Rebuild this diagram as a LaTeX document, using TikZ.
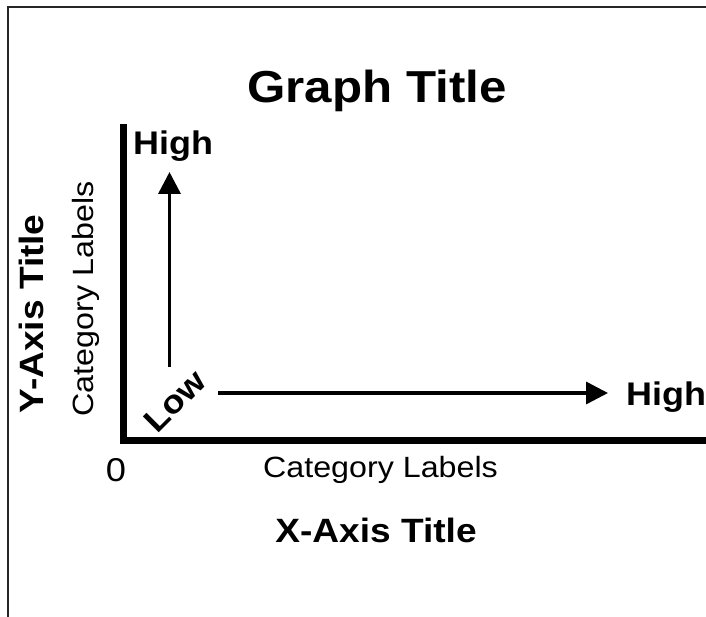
\documentclass[tikz,border=0pt]{standalone}
\usepackage{fontspec}
\setmainfont{Liberation Sans}[FakeStretch=1.1]
\usetikzlibrary{arrows.meta}
\tikzset{
  frameline/.style={line width=2pt, black!85},
  axisline/.style={line width=7pt, line join=miter},
  dirarrow/.style={line width=3.5pt, -{Triangle[length=22pt,width=22pt]}},
  boldlab/.style={font=\bfseries\fontsize{32.7}{36}\selectfont, inner sep=0pt},
  catlab/.style={font=\fontsize{29.3}{33}\selectfont, inner sep=0pt},
  titlelab/.style={font=\bfseries\fontsize{33.7}{38}\selectfont, inner sep=0pt}
}
\begin{document}
\begin{tikzpicture}[x=1pt,y=-1pt]
\useasboundingbox (0,0) rectangle (706,617);
\fill[white] (0,0) rectangle (706,617);
% frame
\coordinate (fTR) at (706,7);
\coordinate (fTL) at (8,7);
\coordinate (fBL) at (8,617);
\draw[frameline] (fTR) -- (fTL) -- (fBL);
% axes
\coordinate (yTop) at (123.5,124);
\coordinate (origin) at (123.5,440.5);
\coordinate (xEnd) at (706,440.5);
\draw[axisline] (yTop) -- (origin) -- (xEnd);
% title
\node[font=\bfseries\fontsize{44.8}{50}\selectfont, inner sep=0pt, anchor=base] (title) at (377,103) {Graph Title};
% high labels
\node[boldlab, anchor=base west] (highY) at (133,155) {High};
\node[boldlab, anchor=base west] (highX) at (626,405) {High};
\node[boldlab, rotate=45, anchor=center] (low) at (175,401) {Low};
% direction arrows
\coordinate (vStart) at (169.5,367);
\coordinate (vEnd) at (169.5,172);
\coordinate (hStart) at (218,393);
\coordinate (hEnd) at (608,393);
\draw[dirarrow] (vStart) -- (vEnd);
\draw[dirarrow] (hStart) -- (hEnd);
% category labels
\node[catlab, anchor=base] (catX) at (380.5,477) {Category Labels};
\node[catlab, rotate=90, anchor=base] (catY) at (93,299) {Category Labels};
\node[font=\fontsize{33}{37}\selectfont, inner sep=0pt, anchor=base] (zero) at (116,481) {0};
% axis titles
\node[titlelab, anchor=base] (xTitle) at (376,542) {X-Axis Title};
\node[titlelab, rotate=90, anchor=base] (yTitle) at (43,314) {Y-Axis Title};
\end{tikzpicture}
\end{document}
